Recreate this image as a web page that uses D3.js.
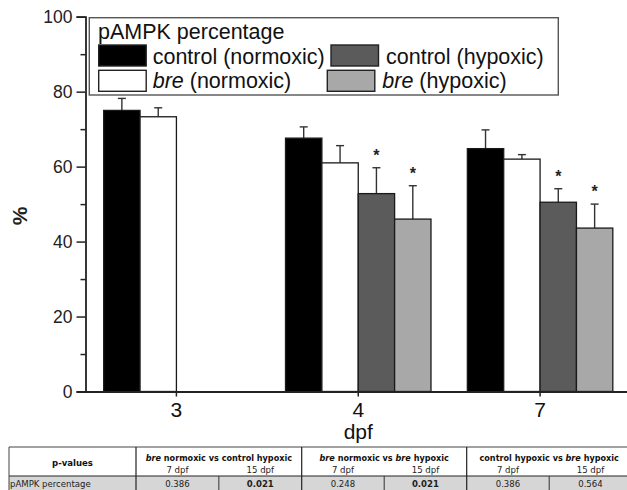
<!DOCTYPE html>
<html>
<head>
<meta charset="utf-8">
<script src="https://cdn.jsdelivr.net/npm/d3@7"></script>
<style>
  html, body { margin: 0; padding: 0; background: #fff; }
  svg { display: block; }
</style>
</head>
<body>
<svg id="chart" width="627" height="490"></svg>
<script>
// ---- data ----
const days = ["3", "4", "7"];
const seriesNames = ["control (normoxic)", "bre (normoxic)", "control (hypoxic)", "bre (hypoxic)"];
const controlNormoxic    = [75.0, 67.6, 64.8];
const controlNormoxicErr = [3.2, 3.0, 5.0];
const breNormoxic        = [73.3, 61.0, 62.0];
const breNormoxicErr     = [2.4, 4.6, 1.2];
const controlHypoxic     = [null, 52.8, 50.5];
const controlHypoxicErr  = [null, 6.9, 3.6];
const breHypoxic         = [null, 46.0, 43.6];
const breHypoxicErr      = [null, 8.9, 6.4];
// asterisk = significant vs normoxic
const controlHypoxicSig  = [false, true, true];
const breHypoxicSig      = [false, true, true];
const yTicks = [0, 20, 40, 60, 80, 100];
const legendTitle = "pAMPK percentage";

// p-value table
const tableRowLabel = "pAMPK percentage";
const comparisons = [
  [["bre", true], [" normoxic vs control hypoxic", false]],
  [["bre", true], [" normoxic vs ", false], ["bre", true], [" hypoxic", false]],
  [["control hypoxic vs ", false], ["bre", true], [" hypoxic", false]]
];
const stages = ["7 dpf", "15 dpf"];
const pValues = [0.386, 0.021, 0.248, 0.021, 0.386, 0.564];

// ---- drawing ----
const svg = d3.select("#chart");
const FONT = "'Liberation Sans', Arial, Helvetica, sans-serif";
const TFONT = "'DejaVu Sans Condensed', 'DejaVu Sans', Tahoma, sans-serif";

const series = [
  { name: seriesNames[0], values: controlNormoxic, errs: controlNormoxicErr, sig: null, fill: "#000000" },
  { name: seriesNames[1], values: breNormoxic, errs: breNormoxicErr, sig: null, fill: "#ffffff" },
  { name: seriesNames[2], values: controlHypoxic, errs: controlHypoxicErr, sig: controlHypoxicSig, fill: "#5b5b5b" },
  { name: seriesNames[3], values: breHypoxic, errs: breHypoxicErr, sig: breHypoxicSig, fill: "#a8a8a8" }
];

const plot = { left: 85.5, right: 631, top: 16.7, bottom: 391.5 };

const x = d3.scaleBand().domain(days).range([plot.left, plot.right]).padding(0);
const y = d3.scaleLinear().domain([0, 100]).range([plot.bottom, plot.top]);
const barW = x.bandwidth() * 0.2;
const center = d => x(d) + x.bandwidth() / 2;

// bars
const bars = [];
series.forEach((s, si) => {
  days.forEach((d, di) => {
    if (s.values[di] == null) return;
    bars.push({ si, d, v: s.values[di], e: s.errs[di], sig: s.sig ? s.sig[di] : false, fill: s.fill,
      x0: center(d) + (si - 2) * barW });
  });
});

const gBars = svg.append("g");
// error bars (drawn before bars so the stem starts at bar top)
gBars.selectAll("line.err").data(bars).join("line")
  .attr("x1", b => b.x0 + barW / 2).attr("x2", b => b.x0 + barW / 2)
  .attr("y1", b => y(b.v)).attr("y2", b => y(b.v + b.e))
  .attr("stroke", "#333").attr("stroke-width", 1.4);
gBars.selectAll("line.cap").data(bars).join("line")
  .attr("x1", b => b.x0 + barW / 2 - 4).attr("x2", b => b.x0 + barW / 2 + 4)
  .attr("y1", b => y(b.v + b.e)).attr("y2", b => y(b.v + b.e))
  .attr("stroke", "#333").attr("stroke-width", 1.4);
gBars.selectAll("rect").data(bars).join("rect")
  .attr("x", b => b.x0).attr("width", barW)
  .attr("y", b => y(b.v)).attr("height", b => y(0) - y(b.v))
  .attr("fill", b => b.fill).attr("stroke", "#1a1a1a").attr("stroke-width", 1.3);
gBars.selectAll("text.star").data(bars.filter(b => b.sig)).join("text")
  .attr("x", b => b.x0 + barW / 2).attr("y", b => y(b.v + b.e) - 7)
  .attr("text-anchor", "middle").attr("font-family", FONT).attr("font-size", 16)
  .attr("font-weight", "bold").attr("fill", "#222").text("*");

// y axis
const yAxis = svg.append("g").attr("transform", `translate(${plot.left},0)`)
  .call(d3.axisLeft(y).tickValues(yTicks).tickSize(9).tickPadding(4));
svg.append("g").attr("transform", `translate(${plot.left},0)`)
  .call(d3.axisLeft(y).tickValues(d3.range(10, 100, 20)).tickSize(5).tickFormat(""))
  .call(g => g.select(".domain").remove());
yAxis.selectAll("text").attr("font-family", FONT).attr("font-size", 17.5).attr("fill", "#222");

// x axis
const xAxis = svg.append("g").attr("transform", `translate(0,${plot.bottom})`)
  .call(d3.axisBottom(x).tickSize(5).tickPadding(6).tickSizeOuter(0));
xAxis.selectAll("text").attr("font-family", FONT).attr("font-size", 21).attr("fill", "#111");

svg.selectAll(".domain").attr("stroke", "#222").attr("stroke-width", 1.8);
svg.selectAll(".tick line").attr("stroke", "#222").attr("stroke-width", 1.5);

// axis titles
svg.append("text").attr("transform", "translate(27,216) rotate(-90)")
  .attr("text-anchor", "middle").attr("font-family", FONT).attr("font-size", 21)
  .attr("font-weight", "bold").attr("fill", "#222").text("%");
svg.append("text").attr("x", center("4")).attr("y", 439)
  .attr("text-anchor", "middle").attr("font-family", FONT).attr("font-size", 21)
  .attr("fill", "#111").text("dpf");

// legend
const leg = svg.append("g");
leg.append("rect").attr("x", 89.3).attr("y", 17.7).attr("width", 469).attr("height", 77.3)
  .attr("fill", "#fff").attr("stroke", "#555").attr("stroke-width", 1.4);
leg.append("text").attr("x", 98).attr("y", 39).attr("font-family", FONT).attr("font-size", 21.5)
  .attr("fill", "#111").text(legendTitle);
const legPos = [
  { sx: 98.7, sy: 45, lx: 152.7, ly: 63.5 },
  { sx: 98.7, sy: 70.3, lx: 152.7, ly: 87.5 },
  { sx: 331, sy: 45, lx: 386, ly: 63.5 },
  { sx: 327.3, sy: 70.3, lx: 382.3, ly: 87.5 }
];
series.forEach((s, i) => {
  const p = legPos[i];
  leg.append("rect").attr("x", p.sx).attr("y", p.sy).attr("width", 47.5).attr("height", 21)
    .attr("fill", s.fill).attr("stroke", "#222").attr("stroke-width", 1.4);
  const t = leg.append("text").attr("x", p.lx).attr("y", p.ly).attr("font-family", FONT)
    .attr("font-size", 21.5).attr("fill", "#111");
  const m = s.name.match(/^(\S+)(.*)$/);
  t.append("tspan").attr("font-style", m[1] === "bre" ? "italic" : "normal").text(m[1]);
  t.append("tspan").text(m[2]);
});

// p-value table
const tbl = svg.append("g");
const tTop = 447, tMid = 476, tBot = 493;
const colX = [9, 136, 301.7, 466.7, 631.7];
const subX = [];
comparisons.forEach((c, i) => {
  subX.push(colX[i + 1], (colX[i + 1] + colX[i + 2]) / 2);
});
subX.push(colX[4]);
tbl.append("rect").attr("x", colX[0]).attr("y", tMid).attr("width", colX[4] - colX[0]).attr("height", tBot - tMid)
  .attr("fill", "#d6d6d6");
tbl.append("line").attr("x1", colX[0]).attr("x2", colX[4]).attr("y1", tTop).attr("y2", tTop)
  .attr("stroke", "#444").attr("stroke-width", 1);
tbl.append("line").attr("x1", colX[0]).attr("x2", colX[4]).attr("y1", tMid).attr("y2", tMid)
  .attr("stroke", "#222").attr("stroke-width", 1);
tbl.append("line").attr("x1", colX[0]).attr("x2", colX[0]).attr("y1", tTop).attr("y2", tBot)
  .attr("stroke", "#444").attr("stroke-width", 1);
colX.slice(1, 4).forEach(cx => {
  tbl.append("line").attr("x1", cx).attr("x2", cx).attr("y1", tTop).attr("y2", tBot)
    .attr("stroke", "#222").attr("stroke-width", 1.2);
});
subX.forEach((sx, i) => {
  if (i % 2 === 1) tbl.append("line").attr("x1", sx).attr("x2", sx).attr("y1", tMid).attr("y2", tBot)
    .attr("stroke", "#333").attr("stroke-width", 1);
});
tbl.append("text").attr("x", (colX[0] + colX[1]) / 2).attr("y", 466)
  .attr("text-anchor", "middle").attr("font-family", TFONT).attr("font-size", 9.5)
  .attr("font-weight", "bold").attr("fill", "#111").text("p-values");
comparisons.forEach((c, i) => {
  const t = tbl.append("text").attr("x", (colX[i + 1] + colX[i + 2]) / 2).attr("y", 460.5)
    .attr("text-anchor", "middle").attr("font-family", TFONT).attr("font-size", 9)
    .attr("font-weight", "bold").attr("fill", "#111");
  c.forEach(([txt, it]) => t.append("tspan").attr("font-style", it ? "italic" : "normal").text(txt));
  stages.forEach((st, j) => {
    const a = subX[i * 2 + j], b = subX[i * 2 + j + 1];
    tbl.append("text").attr("x", (a + b) / 2).attr("y", 472.5)
      .attr("text-anchor", "middle").attr("font-family", TFONT).attr("font-size", 9.5)
      .attr("fill", "#222").text(st);
  });
});
tbl.append("text").attr("x", 10).attr("y", 487).attr("font-family", TFONT).attr("font-size", 9.5)
  .attr("fill", "#222").text(tableRowLabel);
pValues.forEach((p, i) => {
  const a = subX[i], b = subX[i + 1];
  tbl.append("text").attr("x", (a + b) / 2).attr("y", 487)
    .attr("text-anchor", "middle").attr("font-family", TFONT).attr("font-size", 9.5)
    .attr("font-weight", p < 0.05 ? "bold" : "normal").attr("fill", "#222")
    .text(d3.format(".3f")(p));
});
</script>
</body>
</html>
